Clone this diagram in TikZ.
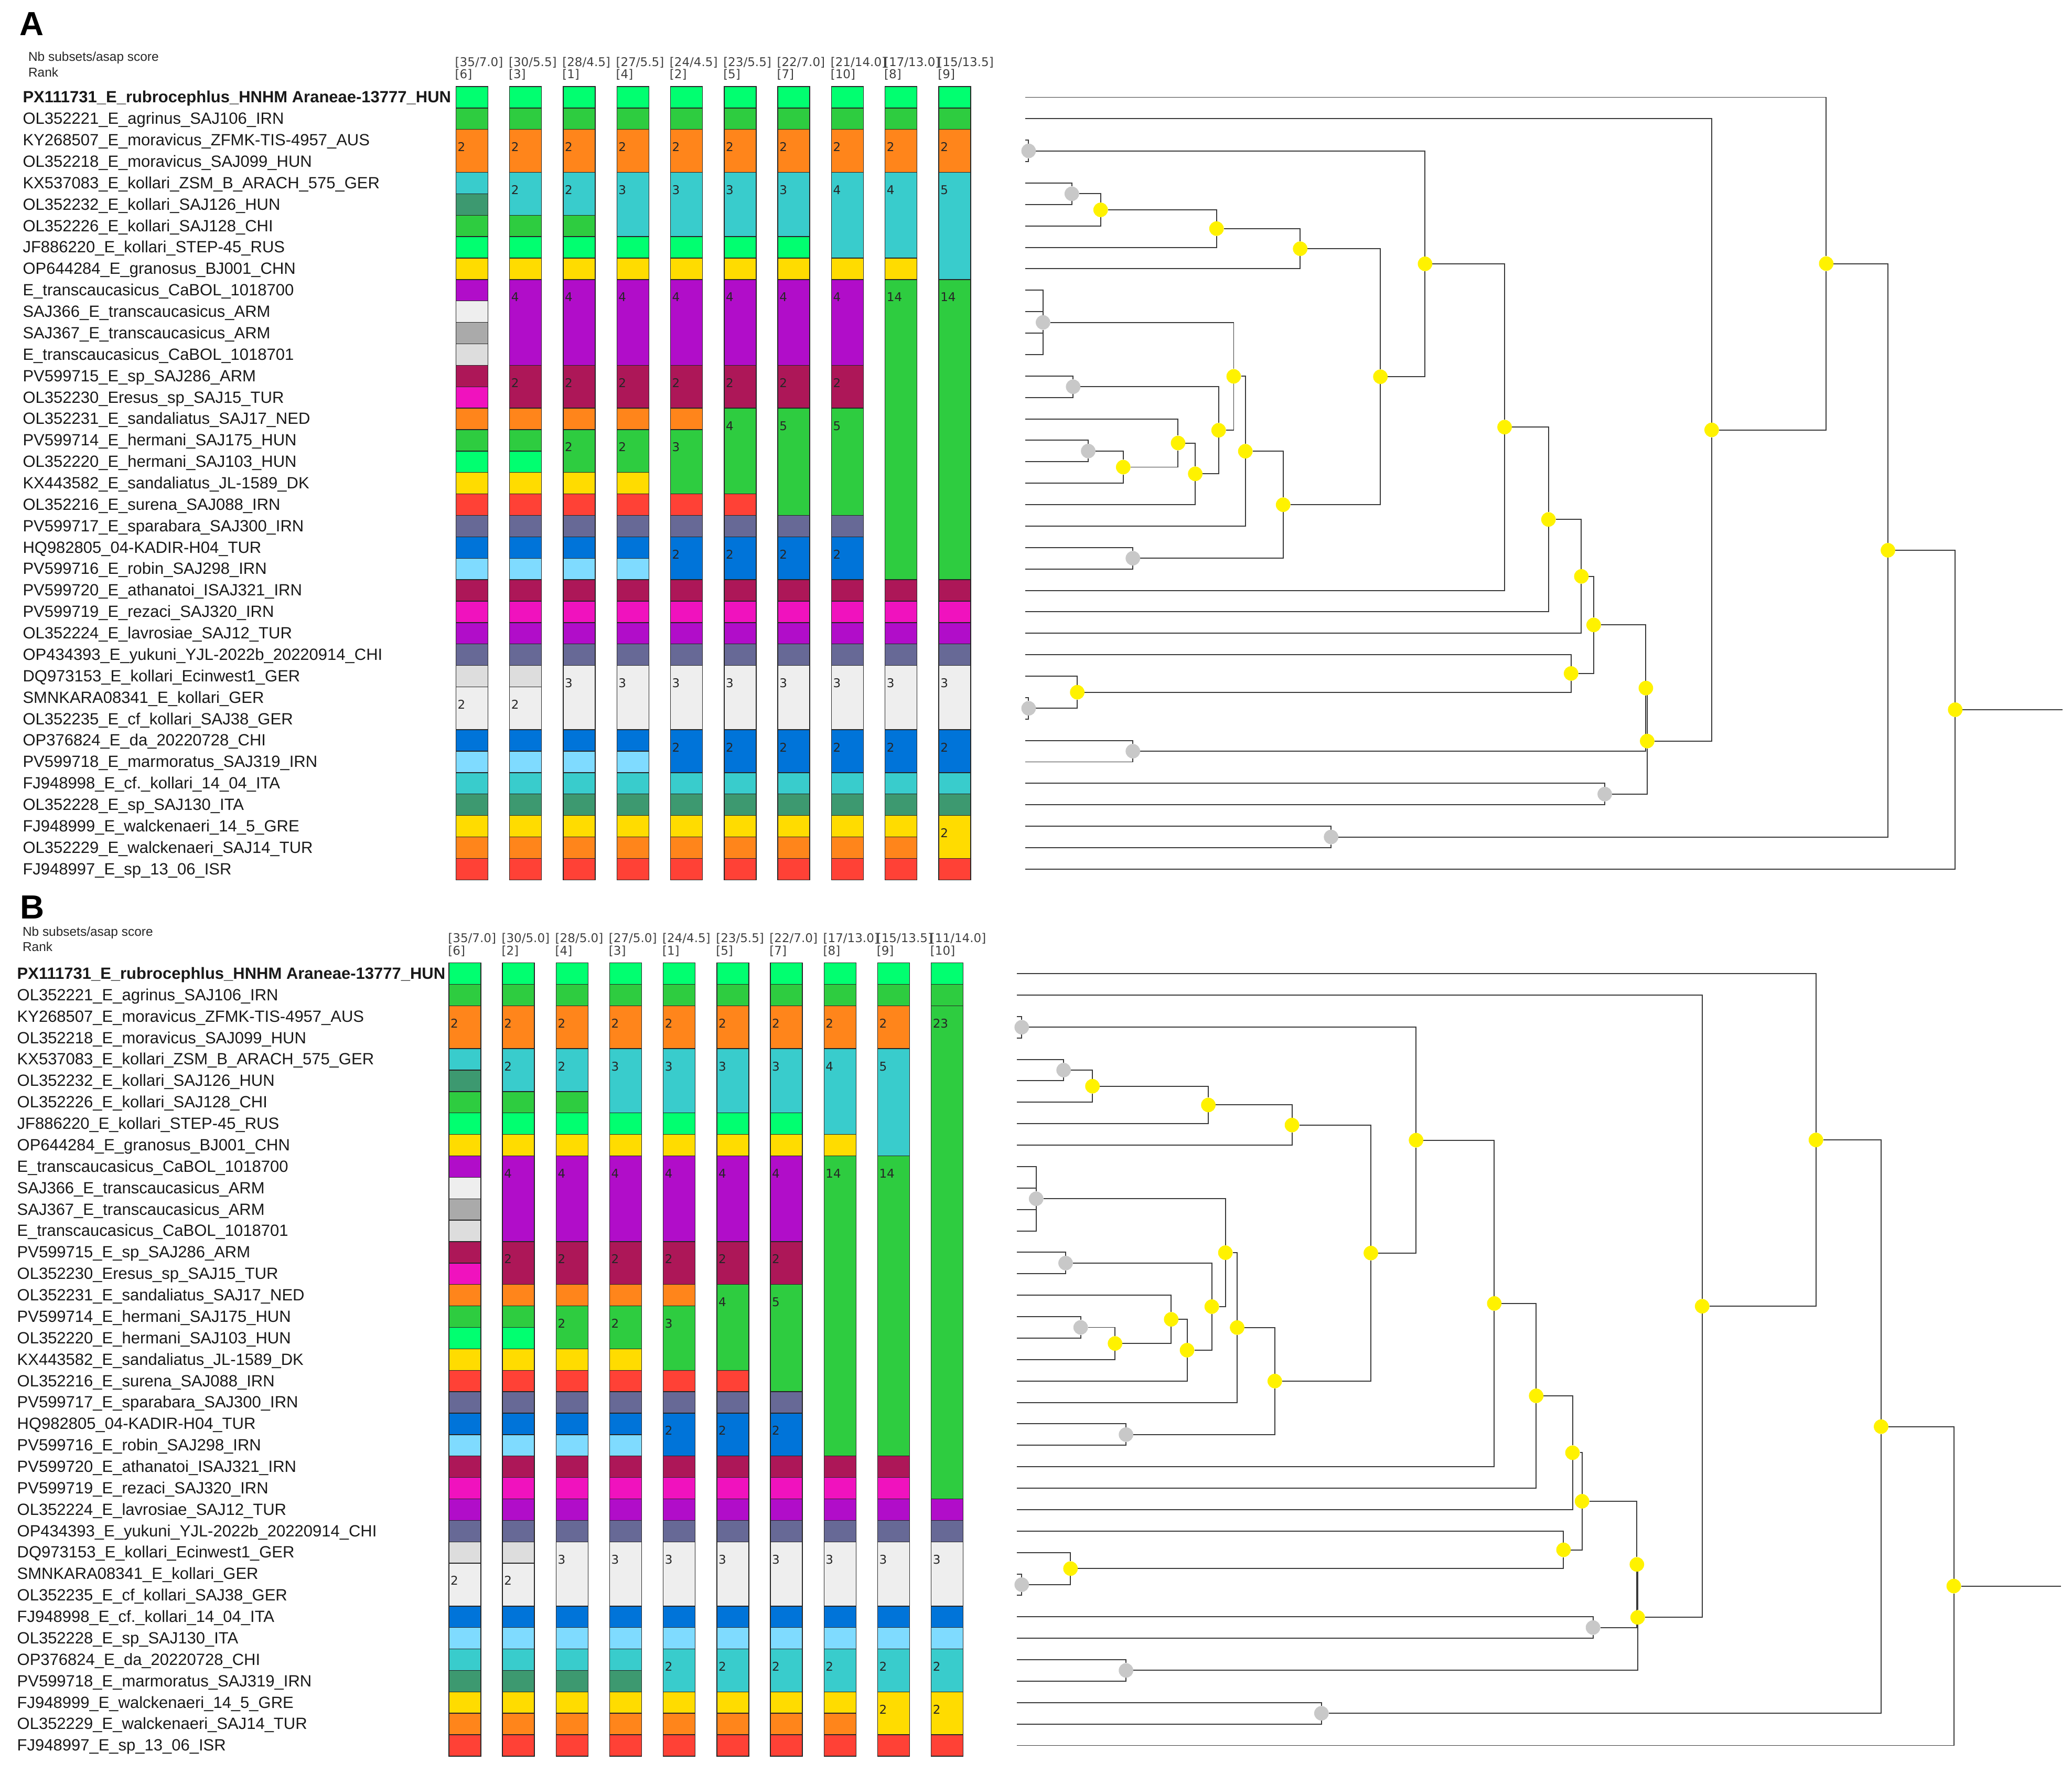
\documentclass[tikz,border=0pt]{standalone}
\usepackage{fontspec}
\setmainfont{Liberation Sans}
\newfontfamily\asapfont{DejaVu Sans}

% partition colours
\definecolor{cLi}{HTML}{01FF70}
\definecolor{cGr}{HTML}{2ECC40}
\definecolor{cOr}{HTML}{FF851B}
\definecolor{cTe}{HTML}{39CCCC}
\definecolor{cOl}{HTML}{3D9970}
\definecolor{cYe}{HTML}{FFDC00}
\definecolor{cPu}{HTML}{B10DC9}
\definecolor{cSi}{HTML}{EEEEEE}
\definecolor{cGy}{HTML}{AAAAAA}
\definecolor{cLg}{HTML}{DDDDDD}
\definecolor{cMa}{HTML}{AD1758}
\definecolor{cFu}{HTML}{F012BE}
\definecolor{cRe}{HTML}{FF4136}
\definecolor{cSl}{HTML}{676996}
\definecolor{cBl}{HTML}{0074D9}
\definecolor{cAq}{HTML}{7FDBFF}
\definecolor{dotgray}{HTML}{C8C8C8}
\definecolor{treeline}{HTML}{3A3A3A}

\pgfdeclarelayer{bg}
\pgfsetlayers{bg,main}

\tikzset{
  cell/.style={draw=black!85, line width=0.55mm},
  cellnum/.style={anchor=base west, inner sep=0pt, text=black!85,
    font=\asapfont\fontsize{26pt}{26pt}\selectfont},
  colhead/.style={anchor=base west, inner sep=0pt, text=black!75,
    font=\asapfont\fontsize{26pt}{26pt}\selectfont},
  taxon/.style={anchor=base west, inner sep=0pt, text=black!90,
    font=\fontsize{35pt}{36pt}\selectfont},
  keytext/.style={anchor=base west, inner sep=0pt, text=black!85,
    font=\fontsize{27.6pt}{28pt}\selectfont},
  panel/.style={anchor=base west, inner sep=0pt,
    font=\bfseries\fontsize{72pt}{72pt}\selectfont},
  branch/.style={draw=treeline, line width=0.78mm},
  ydot/.style={circle, fill=yellow, inner sep=0pt, minimum size=11mm},
  gdot/.style={circle, fill=dotgray, inner sep=0pt, minimum size=11mm},
}

% one ASAP partition column: id, left edge, cells (from/to/colour), numbers (row/text)
\newcommand{\asapcol}[4]{%
  \foreach \ra/\rb/\cc in {#3}
    \draw[cell, fill=\cc] (#2,\ra-0.5) rectangle (#2+24.2,\rb+0.5);
  \foreach \ra/\nn in {#4}
    \node[cellnum] (#1n\ra) at (#2+1.2,\ra+0.525) {\nn};
}

% rectangular branches from each child to its parent
\newcommand{\clade}[3]{\foreach \kid in {#3}{\draw[branch] (#1\kid) -| (#1#2);}}

\newcommand{\drawtree}[1]{%
  \clade{#1}{ga34}{l3,l4}
  \clade{#1}{ga56}{l5,l6}
  \clade{#1}{na7}{ga56,l7}
  \clade{#1}{na8}{na7,l8}
  \clade{#1}{na9}{na8,l9}
  \clade{#1}{gb}{l10,l11,l12,l13}
  \clade{#1}{gc}{l14,l15}
  \clade{#1}{gd}{l17,l18}
  \clade{#1}{ne}{gd,l19}
  \clade{#1}{nf}{l16,ne}
  \clade{#1}{ng}{nf,l20}
  \clade{#1}{nh}{gc,ng}
  \clade{#1}{ni}{gb,nh}
  \clade{#1}{nj}{ni,l21}
  \clade{#1}{gk}{l22,l23}
  \clade{#1}{nk}{nj,gk}
  \clade{#1}{nl}{na9,nk}
  \clade{#1}{nm}{ga34,nl}
  \clade{#1}{nn}{nm,l24}
  \clade{#1}{no}{nn,l25}
  \clade{#1}{np}{no,l26}
  \clade{#1}{gq}{l29,l30}
  \clade{#1}{nq}{l28,gq}
  \clade{#1}{nr}{l27,nq}
  \clade{#1}{ns}{np,nr}
  \clade{#1}{gt}{l31,l32}
  \clade{#1}{nt}{ns,gt}
  \clade{#1}{gu}{l33,l34}
  \clade{#1}{nu}{nt,gu}
  \clade{#1}{nv}{l2,nu}
  \clade{#1}{nw}{l1,nv}
  \clade{#1}{gx}{l35,l36}
  \clade{#1}{nx}{nw,gx}
  \clade{#1}{ny}{nx,l37}
  \draw[branch] (#1ny) -- (#1root);
}

\def\taxatop{1/\textbf{PX111731\_E\_rubrocephlus\_HNHM Araneae-13777\_HUN},
  2/OL352221\_E\_agrinus\_SAJ106\_IRN,
  3/KY268507\_E\_moravicus\_ZFMK-TIS-4957\_AUS,
  4/OL352218\_E\_moravicus\_SAJ099\_HUN,
  5/KX537083\_E\_kollari\_ZSM\_B\_ARACH\_575\_GER,
  6/OL352232\_E\_kollari\_SAJ126\_HUN,
  7/OL352226\_E\_kollari\_SAJ128\_CHI,
  8/JF886220\_E\_kollari\_STEP-45\_RUS,
  9/OP644284\_E\_granosus\_BJ001\_CHN,
  10/E\_transcaucasicus\_CaBOL\_1018700,
  11/SAJ366\_E\_transcaucasicus\_ARM,
  12/SAJ367\_E\_transcaucasicus\_ARM,
  13/E\_transcaucasicus\_CaBOL\_1018701,
  14/PV599715\_E\_sp\_SAJ286\_ARM,
  15/OL352230\_Eresus\_sp\_SAJ15\_TUR,
  16/OL352231\_E\_sandaliatus\_SAJ17\_NED,
  17/PV599714\_E\_hermani\_SAJ175\_HUN,
  18/OL352220\_E\_hermani\_SAJ103\_HUN,
  19/KX443582\_E\_sandaliatus\_JL-1589\_DK,
  20/OL352216\_E\_surena\_SAJ088\_IRN,
  21/PV599717\_E\_sparabara\_SAJ300\_IRN,
  22/HQ982805\_04-KADIR-H04\_TUR,
  23/PV599716\_E\_robin\_SAJ298\_IRN,
  24/PV599720\_E\_athanatoi\_ISAJ321\_IRN,
  25/PV599719\_E\_rezaci\_SAJ320\_IRN,
  26/OL352224\_E\_lavrosiae\_SAJ12\_TUR,
  27/OP434393\_E\_yukuni\_YJL-2022b\_20220914\_CHI,
  28/DQ973153\_E\_kollari\_Ecinwest1\_GER,
  29/SMNKARA08341\_E\_kollari\_GER,
  30/OL352235\_E\_cf\_kollari\_SAJ38\_GER,
  35/FJ948999\_E\_walckenaeri\_14\_5\_GRE,
  36/OL352229\_E\_walckenaeri\_SAJ14\_TUR,
  37/FJ948997\_E\_sp\_13\_06\_ISR}
\def\taxaA{31/OP376824\_E\_da\_20220728\_CHI,
  32/PV599718\_E\_marmoratus\_SAJ319\_IRN,
  33/FJ948998\_E\_cf.\_kollari\_14\_04\_ITA,
  34/OL352228\_E\_sp\_SAJ130\_ITA}
\def\taxaB{31/FJ948998\_E\_cf.\_kollari\_14\_04\_ITA,
  32/OL352228\_E\_sp\_SAJ130\_ITA,
  33/OP376824\_E\_da\_20220728\_CHI,
  34/PV599718\_E\_marmoratus\_SAJ319\_IRN}

\def\headA{1/35/7.0/6, 2/30/5.5/3, 3/28/4.5/1, 4/27/5.5/4, 5/24/4.5/2,
  6/23/5.5/5, 7/22/7.0/7, 8/21/14.0/10, 9/17/13.0/8, 10/15/13.5/9}
\def\headB{1/35/7.0/6, 2/30/5.0/2, 3/28/5.0/4, 4/27/5.0/3, 5/24/4.5/1,
  6/23/5.5/5, 7/22/7.0/7, 8/17/13.0/8, 9/15/13.5/9, 10/11/14.0/10}

\begin{document}
\begin{tikzpicture}[x=1mm, y=-1mm]
  \useasboundingbox (0,0) rectangle (1568,1341);
  \begin{pgfonlayer}{bg}
    \fill[white] (0,0) rectangle (1568,1341);
  \end{pgfonlayer}

  % panel letters and keys
  \node[panel] (lblA) at (15.0,26.9) {A};
  \node[keytext] (keyA) at (21.4,46.2) {Nb subsets/asap score};
  \node[keytext] (rankA) at (21.4,58.1) {Rank};
  \node[panel] (lblB) at (15.1,695.1) {B};
  \node[keytext] (keyB) at (17.0,708.0) {Nb subsets/asap score};
  \node[keytext] (rankB) at (17.0,719.8) {Rank};

  %% ---------------- panel A ----------------
  \begin{scope}[yshift=-57.39mm, y=-16.22mm]
    \foreach \r/\t in \taxatop
      \node[taxon] (Atx\r) at (17.2,\r+0.253) {\t};
    \foreach \r/\t in \taxaA
      \node[taxon] (Atx\r) at (17.2,\r+0.253) {\t};

    \foreach \i/\nb/\sc/\rk in \headA {
      \node[colhead] (Ahd\i) at ({344.3+(\i-1)*40.6},-0.455) {[\nb/\sc]};
      \node[colhead] (Ark\i) at ({344.3+(\i-1)*40.6},0.122) {[\rk]};
    }

    \asapcol{A1}{345.0}{1/1/cLi,2/2/cGr,3/4/cOr,5/5/cTe,6/6/cOl,7/7/cGr,8/8/cLi,9/9/cYe,10/10/cPu,11/11/cSi,12/12/cGy,13/13/cLg,14/14/cMa,15/15/cFu,16/16/cOr,17/17/cGr,18/18/cLi,19/19/cYe,20/20/cRe,21/21/cSl,22/22/cBl,23/23/cAq,24/24/cMa,25/25/cFu,26/26/cPu,27/27/cSl,28/28/cLg,29/30/cSi,31/31/cBl,32/32/cAq,33/33/cTe,34/34/cOl,35/35/cYe,36/36/cOr,37/37/cRe}{3/2,29/2}
    \asapcol{A2}{385.6}{1/1/cLi,2/2/cGr,3/4/cOr,5/6/cTe,7/7/cGr,8/8/cLi,9/9/cYe,10/13/cPu,14/15/cMa,16/16/cOr,17/17/cGr,18/18/cLi,19/19/cYe,20/20/cRe,21/21/cSl,22/22/cBl,23/23/cAq,24/24/cMa,25/25/cFu,26/26/cPu,27/27/cSl,28/28/cLg,29/30/cSi,31/31/cBl,32/32/cAq,33/33/cTe,34/34/cOl,35/35/cYe,36/36/cOr,37/37/cRe}{3/2,5/2,10/4,14/2,29/2}
    \asapcol{A3}{426.2}{1/1/cLi,2/2/cGr,3/4/cOr,5/6/cTe,7/7/cGr,8/8/cLi,9/9/cYe,10/13/cPu,14/15/cMa,16/16/cOr,17/18/cGr,19/19/cYe,20/20/cRe,21/21/cSl,22/22/cBl,23/23/cAq,24/24/cMa,25/25/cFu,26/26/cPu,27/27/cSl,28/30/cSi,31/31/cBl,32/32/cAq,33/33/cTe,34/34/cOl,35/35/cYe,36/36/cOr,37/37/cRe}{3/2,5/2,10/4,14/2,17/2,28/3}
    \asapcol{A4}{466.8}{1/1/cLi,2/2/cGr,3/4/cOr,5/7/cTe,8/8/cLi,9/9/cYe,10/13/cPu,14/15/cMa,16/16/cOr,17/18/cGr,19/19/cYe,20/20/cRe,21/21/cSl,22/22/cBl,23/23/cAq,24/24/cMa,25/25/cFu,26/26/cPu,27/27/cSl,28/30/cSi,31/31/cBl,32/32/cAq,33/33/cTe,34/34/cOl,35/35/cYe,36/36/cOr,37/37/cRe}{3/2,5/3,10/4,14/2,17/2,28/3}
    \asapcol{A5}{507.4}{1/1/cLi,2/2/cGr,3/4/cOr,5/7/cTe,8/8/cLi,9/9/cYe,10/13/cPu,14/15/cMa,16/16/cOr,17/19/cGr,20/20/cRe,21/21/cSl,22/23/cBl,24/24/cMa,25/25/cFu,26/26/cPu,27/27/cSl,28/30/cSi,31/32/cBl,33/33/cTe,34/34/cOl,35/35/cYe,36/36/cOr,37/37/cRe}{3/2,5/3,10/4,14/2,17/3,22/2,28/3,31/2}
    \asapcol{A6}{548.0}{1/1/cLi,2/2/cGr,3/4/cOr,5/7/cTe,8/8/cLi,9/9/cYe,10/13/cPu,14/15/cMa,16/19/cGr,20/20/cRe,21/21/cSl,22/23/cBl,24/24/cMa,25/25/cFu,26/26/cPu,27/27/cSl,28/30/cSi,31/32/cBl,33/33/cTe,34/34/cOl,35/35/cYe,36/36/cOr,37/37/cRe}{3/2,5/3,10/4,14/2,16/4,22/2,28/3,31/2}
    \asapcol{A7}{588.6}{1/1/cLi,2/2/cGr,3/4/cOr,5/7/cTe,8/8/cLi,9/9/cYe,10/13/cPu,14/15/cMa,16/20/cGr,21/21/cSl,22/23/cBl,24/24/cMa,25/25/cFu,26/26/cPu,27/27/cSl,28/30/cSi,31/32/cBl,33/33/cTe,34/34/cOl,35/35/cYe,36/36/cOr,37/37/cRe}{3/2,5/3,10/4,14/2,16/5,22/2,28/3,31/2}
    \asapcol{A8}{629.2}{1/1/cLi,2/2/cGr,3/4/cOr,5/8/cTe,9/9/cYe,10/13/cPu,14/15/cMa,16/20/cGr,21/21/cSl,22/23/cBl,24/24/cMa,25/25/cFu,26/26/cPu,27/27/cSl,28/30/cSi,31/32/cBl,33/33/cTe,34/34/cOl,35/35/cYe,36/36/cOr,37/37/cRe}{3/2,5/4,10/4,14/2,16/5,22/2,28/3,31/2}
    \asapcol{A9}{669.8}{1/1/cLi,2/2/cGr,3/4/cOr,5/8/cTe,9/9/cYe,10/23/cGr,24/24/cMa,25/25/cFu,26/26/cPu,27/27/cSl,28/30/cSi,31/32/cBl,33/33/cTe,34/34/cOl,35/35/cYe,36/36/cOr,37/37/cRe}{3/2,5/4,10/14,28/3,31/2}
    \asapcol{A10}{710.4}{1/1/cLi,2/2/cGr,3/4/cOr,5/9/cTe,10/23/cGr,24/24/cMa,25/25/cFu,26/26/cPu,27/27/cSl,28/30/cSi,31/32/cBl,33/33/cTe,34/34/cOl,35/36/cYe,37/37/cRe}{3/2,5/5,10/14,28/3,31/2,35/2}

    % tree A
    \foreach \r in {1,...,37}
      \coordinate (Al\r) at (775.8,\r);
    \foreach \n/\x/\y in {ga34/778.4/3.5, ga56/811.1/5.5, gb/789.3/11.5,
        gc/812.1/14.5, gd/823.5/17.5, gk/857.3/22.5, gq/778.4/29.5,
        gt/857.3/31.5, gu/1214.4/33.5, gx/1007.3/35.5}
      \node[gdot] (A\n) at (\x,\y) {};
    \foreach \n/\x/\y in {na7/832.9/6.25, na8/920.6/7.125, na9/983.9/8.0625,
        ne/850.0/18.25, nf/891.5/17.125, ng/904.5/18.5625, nh/922.2/16.5313,
        ni/933.6/14.0156, nj/942.4/17.5078, nk/971.0/20.0039, nl/1044.6/14.0332,
        nm/1078.4/8.7666, nn/1138.6/16.3833, no/1171.8/20.6917, np/1196.7/23.3458,
        nq/815.2/28.75, nr/1188.9/27.875, ns/1206.0/25.6104, nt/1245.5/28.5552,
        nu/1246.5/31.0276, nv/1295.3/16.5138, nw/1382.0/8.7569, nx/1428.7/22.1285,
        ny/1479.6/29.5642}
      \node[ydot] (A\n) at (\x,\y) {};
    \coordinate (Aroot) at (1561,29.5642);
    \begin{pgfonlayer}{bg}
      \drawtree{A}
    \end{pgfonlayer}
  \end{scope}

  %% ---------------- panel B ----------------
  \begin{scope}[yshift=-720.39mm, y=-16.22mm]
    \foreach \r/\t in \taxatop
      \node[taxon] (Btx\r) at (12.9,\r+0.253) {\t};
    \foreach \r/\t in \taxaB
      \node[taxon] (Btx\r) at (12.9,\r+0.253) {\t};

    \foreach \i/\nb/\sc/\rk in \headB {
      \node[colhead] (Bhd\i) at ({339.0+(\i-1)*40.55},-0.455) {[\nb/\sc]};
      \node[colhead] (Brk\i) at ({339.0+(\i-1)*40.55},0.122) {[\rk]};
    }

    \asapcol{B1}{339.7}{1/1/cLi,2/2/cGr,3/4/cOr,5/5/cTe,6/6/cOl,7/7/cGr,8/8/cLi,9/9/cYe,10/10/cPu,11/11/cSi,12/12/cGy,13/13/cLg,14/14/cMa,15/15/cFu,16/16/cOr,17/17/cGr,18/18/cLi,19/19/cYe,20/20/cRe,21/21/cSl,22/22/cBl,23/23/cAq,24/24/cMa,25/25/cFu,26/26/cPu,27/27/cSl,28/28/cLg,29/30/cSi,31/31/cBl,32/32/cAq,33/33/cTe,34/34/cOl,35/35/cYe,36/36/cOr,37/37/cRe}{3/2,29/2}
    \asapcol{B2}{380.25}{1/1/cLi,2/2/cGr,3/4/cOr,5/6/cTe,7/7/cGr,8/8/cLi,9/9/cYe,10/13/cPu,14/15/cMa,16/16/cOr,17/17/cGr,18/18/cLi,19/19/cYe,20/20/cRe,21/21/cSl,22/22/cBl,23/23/cAq,24/24/cMa,25/25/cFu,26/26/cPu,27/27/cSl,28/28/cLg,29/30/cSi,31/31/cBl,32/32/cAq,33/33/cTe,34/34/cOl,35/35/cYe,36/36/cOr,37/37/cRe}{3/2,5/2,10/4,14/2,29/2}
    \asapcol{B3}{420.8}{1/1/cLi,2/2/cGr,3/4/cOr,5/6/cTe,7/7/cGr,8/8/cLi,9/9/cYe,10/13/cPu,14/15/cMa,16/16/cOr,17/18/cGr,19/19/cYe,20/20/cRe,21/21/cSl,22/22/cBl,23/23/cAq,24/24/cMa,25/25/cFu,26/26/cPu,27/27/cSl,28/30/cSi,31/31/cBl,32/32/cAq,33/33/cTe,34/34/cOl,35/35/cYe,36/36/cOr,37/37/cRe}{3/2,5/2,10/4,14/2,17/2,28/3}
    \asapcol{B4}{461.35}{1/1/cLi,2/2/cGr,3/4/cOr,5/7/cTe,8/8/cLi,9/9/cYe,10/13/cPu,14/15/cMa,16/16/cOr,17/18/cGr,19/19/cYe,20/20/cRe,21/21/cSl,22/22/cBl,23/23/cAq,24/24/cMa,25/25/cFu,26/26/cPu,27/27/cSl,28/30/cSi,31/31/cBl,32/32/cAq,33/33/cTe,34/34/cOl,35/35/cYe,36/36/cOr,37/37/cRe}{3/2,5/3,10/4,14/2,17/2,28/3}
    \asapcol{B5}{501.9}{1/1/cLi,2/2/cGr,3/4/cOr,5/7/cTe,8/8/cLi,9/9/cYe,10/13/cPu,14/15/cMa,16/16/cOr,17/19/cGr,20/20/cRe,21/21/cSl,22/23/cBl,24/24/cMa,25/25/cFu,26/26/cPu,27/27/cSl,28/30/cSi,31/31/cBl,32/32/cAq,33/34/cTe,35/35/cYe,36/36/cOr,37/37/cRe}{3/2,5/3,10/4,14/2,17/3,22/2,28/3,33/2}
    \asapcol{B6}{542.45}{1/1/cLi,2/2/cGr,3/4/cOr,5/7/cTe,8/8/cLi,9/9/cYe,10/13/cPu,14/15/cMa,16/19/cGr,20/20/cRe,21/21/cSl,22/23/cBl,24/24/cMa,25/25/cFu,26/26/cPu,27/27/cSl,28/30/cSi,31/31/cBl,32/32/cAq,33/34/cTe,35/35/cYe,36/36/cOr,37/37/cRe}{3/2,5/3,10/4,14/2,16/4,22/2,28/3,33/2}
    \asapcol{B7}{583.0}{1/1/cLi,2/2/cGr,3/4/cOr,5/7/cTe,8/8/cLi,9/9/cYe,10/13/cPu,14/15/cMa,16/20/cGr,21/21/cSl,22/23/cBl,24/24/cMa,25/25/cFu,26/26/cPu,27/27/cSl,28/30/cSi,31/31/cBl,32/32/cAq,33/34/cTe,35/35/cYe,36/36/cOr,37/37/cRe}{3/2,5/3,10/4,14/2,16/5,22/2,28/3,33/2}
    \asapcol{B8}{623.55}{1/1/cLi,2/2/cGr,3/4/cOr,5/8/cTe,9/9/cYe,10/23/cGr,24/24/cMa,25/25/cFu,26/26/cPu,27/27/cSl,28/30/cSi,31/31/cBl,32/32/cAq,33/34/cTe,35/35/cYe,36/36/cOr,37/37/cRe}{3/2,5/4,10/14,28/3,33/2}
    \asapcol{B9}{664.1}{1/1/cLi,2/2/cGr,3/4/cOr,5/9/cTe,10/23/cGr,24/24/cMa,25/25/cFu,26/26/cPu,27/27/cSl,28/30/cSi,31/31/cBl,32/32/cAq,33/34/cTe,35/36/cYe,37/37/cRe}{3/2,5/5,10/14,28/3,33/2,35/2}
    \asapcol{B10}{704.65}{1/1/cLi,2/2/cGr,3/25/cGr,26/26/cPu,27/27/cSl,28/30/cSi,31/31/cBl,32/32/cAq,33/34/cTe,35/36/cYe,37/37/cRe}{3/23,28/3,33/2,35/2}

    % tree B
    \foreach \r in {1,...,37}
      \coordinate (Bl\r) at (769.6,\r);
    \foreach \n/\x/\y in {ga34/773.2/3.5, ga56/804.9/5.5, gb/784.1/11.5,
        gc/806.4/14.5, gd/817.8/17.5, gk/852.1/22.5, gq/773.2/29.5,
        gt/1205.5/31.5, gu/852.1/33.5, gx/1000.0/35.5}
      \node[gdot] (B\n) at (\x,\y) {};
    \foreach \n/\x/\y in {na7/826.7/6.25, na8/914.4/7.125, na9/977.7/8.0625,
        ne/843.8/18.25, nf/886.3/17.125, ng/898.3/18.5625, nh/917.0/16.5313,
        ni/927.3/14.0156, nj/936.2/17.5078, nk/964.7/20.0039, nl/1037.4/14.0332,
        nm/1071.6/8.7666, nn/1130.8/16.3833, no/1162.5/20.6917, np/1190.0/23.3458,
        nq/810.1/28.75, nr/1183.2/27.875, ns/1197.2/25.6104, nt/1238.7/28.5552,
        nu/1239.3/31.0276, nv/1288.1/16.5138, nw/1374.2/8.7569, nx/1423.5/22.1285,
        ny/1478.5/29.5642}
      \node[ydot] (B\n) at (\x,\y) {};
    \coordinate (Broot) at (1559.5,29.5642);
    \begin{pgfonlayer}{bg}
      \drawtree{B}
    \end{pgfonlayer}
  \end{scope}
\end{tikzpicture}
\end{document}
